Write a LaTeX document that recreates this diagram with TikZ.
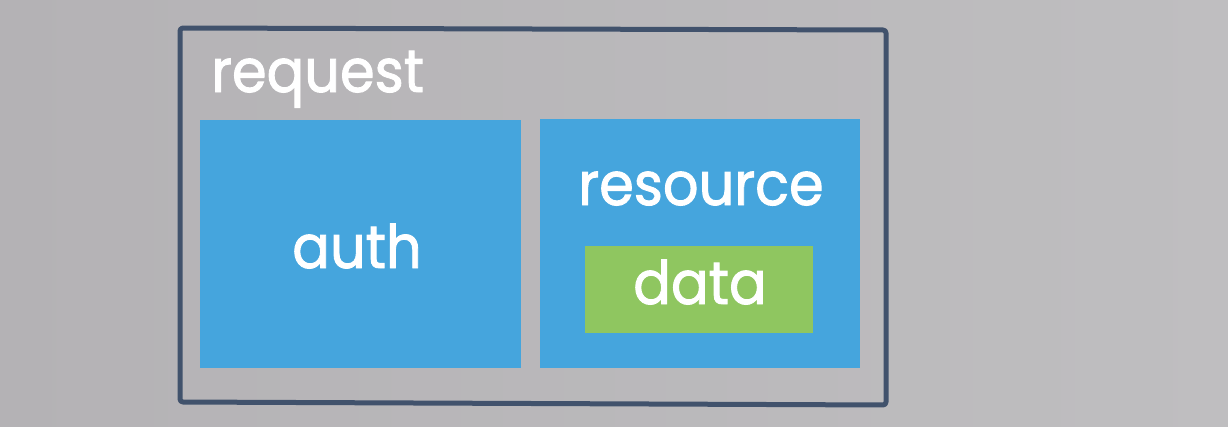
\documentclass[tikz,border=0pt]{standalone}
\usepackage{fontspec}
\setmainfont{Poppins}
\newfontfamily\lblfont{Poppins}[FakeBold=1.6]
\definecolor{bgL}{HTML}{B4B2B5}
\definecolor{bgR}{HTML}{BFBEC0}
\definecolor{frameC}{HTML}{41526C}
\definecolor{boxBlue}{HTML}{45A5DD}
\definecolor{boxGreen}{HTML}{8FC660}
\tikzset{
  framepath/.style={draw=frameC, line width=5pt, line join=round, rounded corners=3pt},
  bluebox/.style={fill=boxBlue, draw=none, inner sep=0pt},
  greenbox/.style={fill=boxGreen, draw=none, inner sep=0pt},
  lbl/.style={text=white, inner sep=0pt, xscale=0.93, font=\lblfont\fontsize{60}{60}\selectfont}
}
\begin{document}
\begin{tikzpicture}[x=1pt,y=-1pt]
\shade[left color=bgL, right color=bgR] (0,0) rectangle (1228,426);
\useasboundingbox (0,0) rectangle (1228,426);
% outer frame
\draw[framepath] (180,28) -- (886,30) -- (886,405) -- (180,402) -- cycle;
% boxes
\node[bluebox, minimum width=321pt, minimum height=248pt] (auth) at (360.5,244) {};
\node[bluebox, minimum width=320pt, minimum height=249pt] (resource) at (700,243.5) {};
\node[greenbox, minimum width=228pt, minimum height=87pt] (data) at (699,289.5) {};
% labels
\node[lbl, anchor=base west] (reqlbl) at (211,92) {request};
\node[lbl, anchor=base] (authlbl) at (357,268) {auth};
\node[lbl, anchor=base] (reslbl) at (701,205) {resource};
\node[lbl, anchor=base] (datalbl) at (700,304) {data};
\end{tikzpicture}
\end{document}
